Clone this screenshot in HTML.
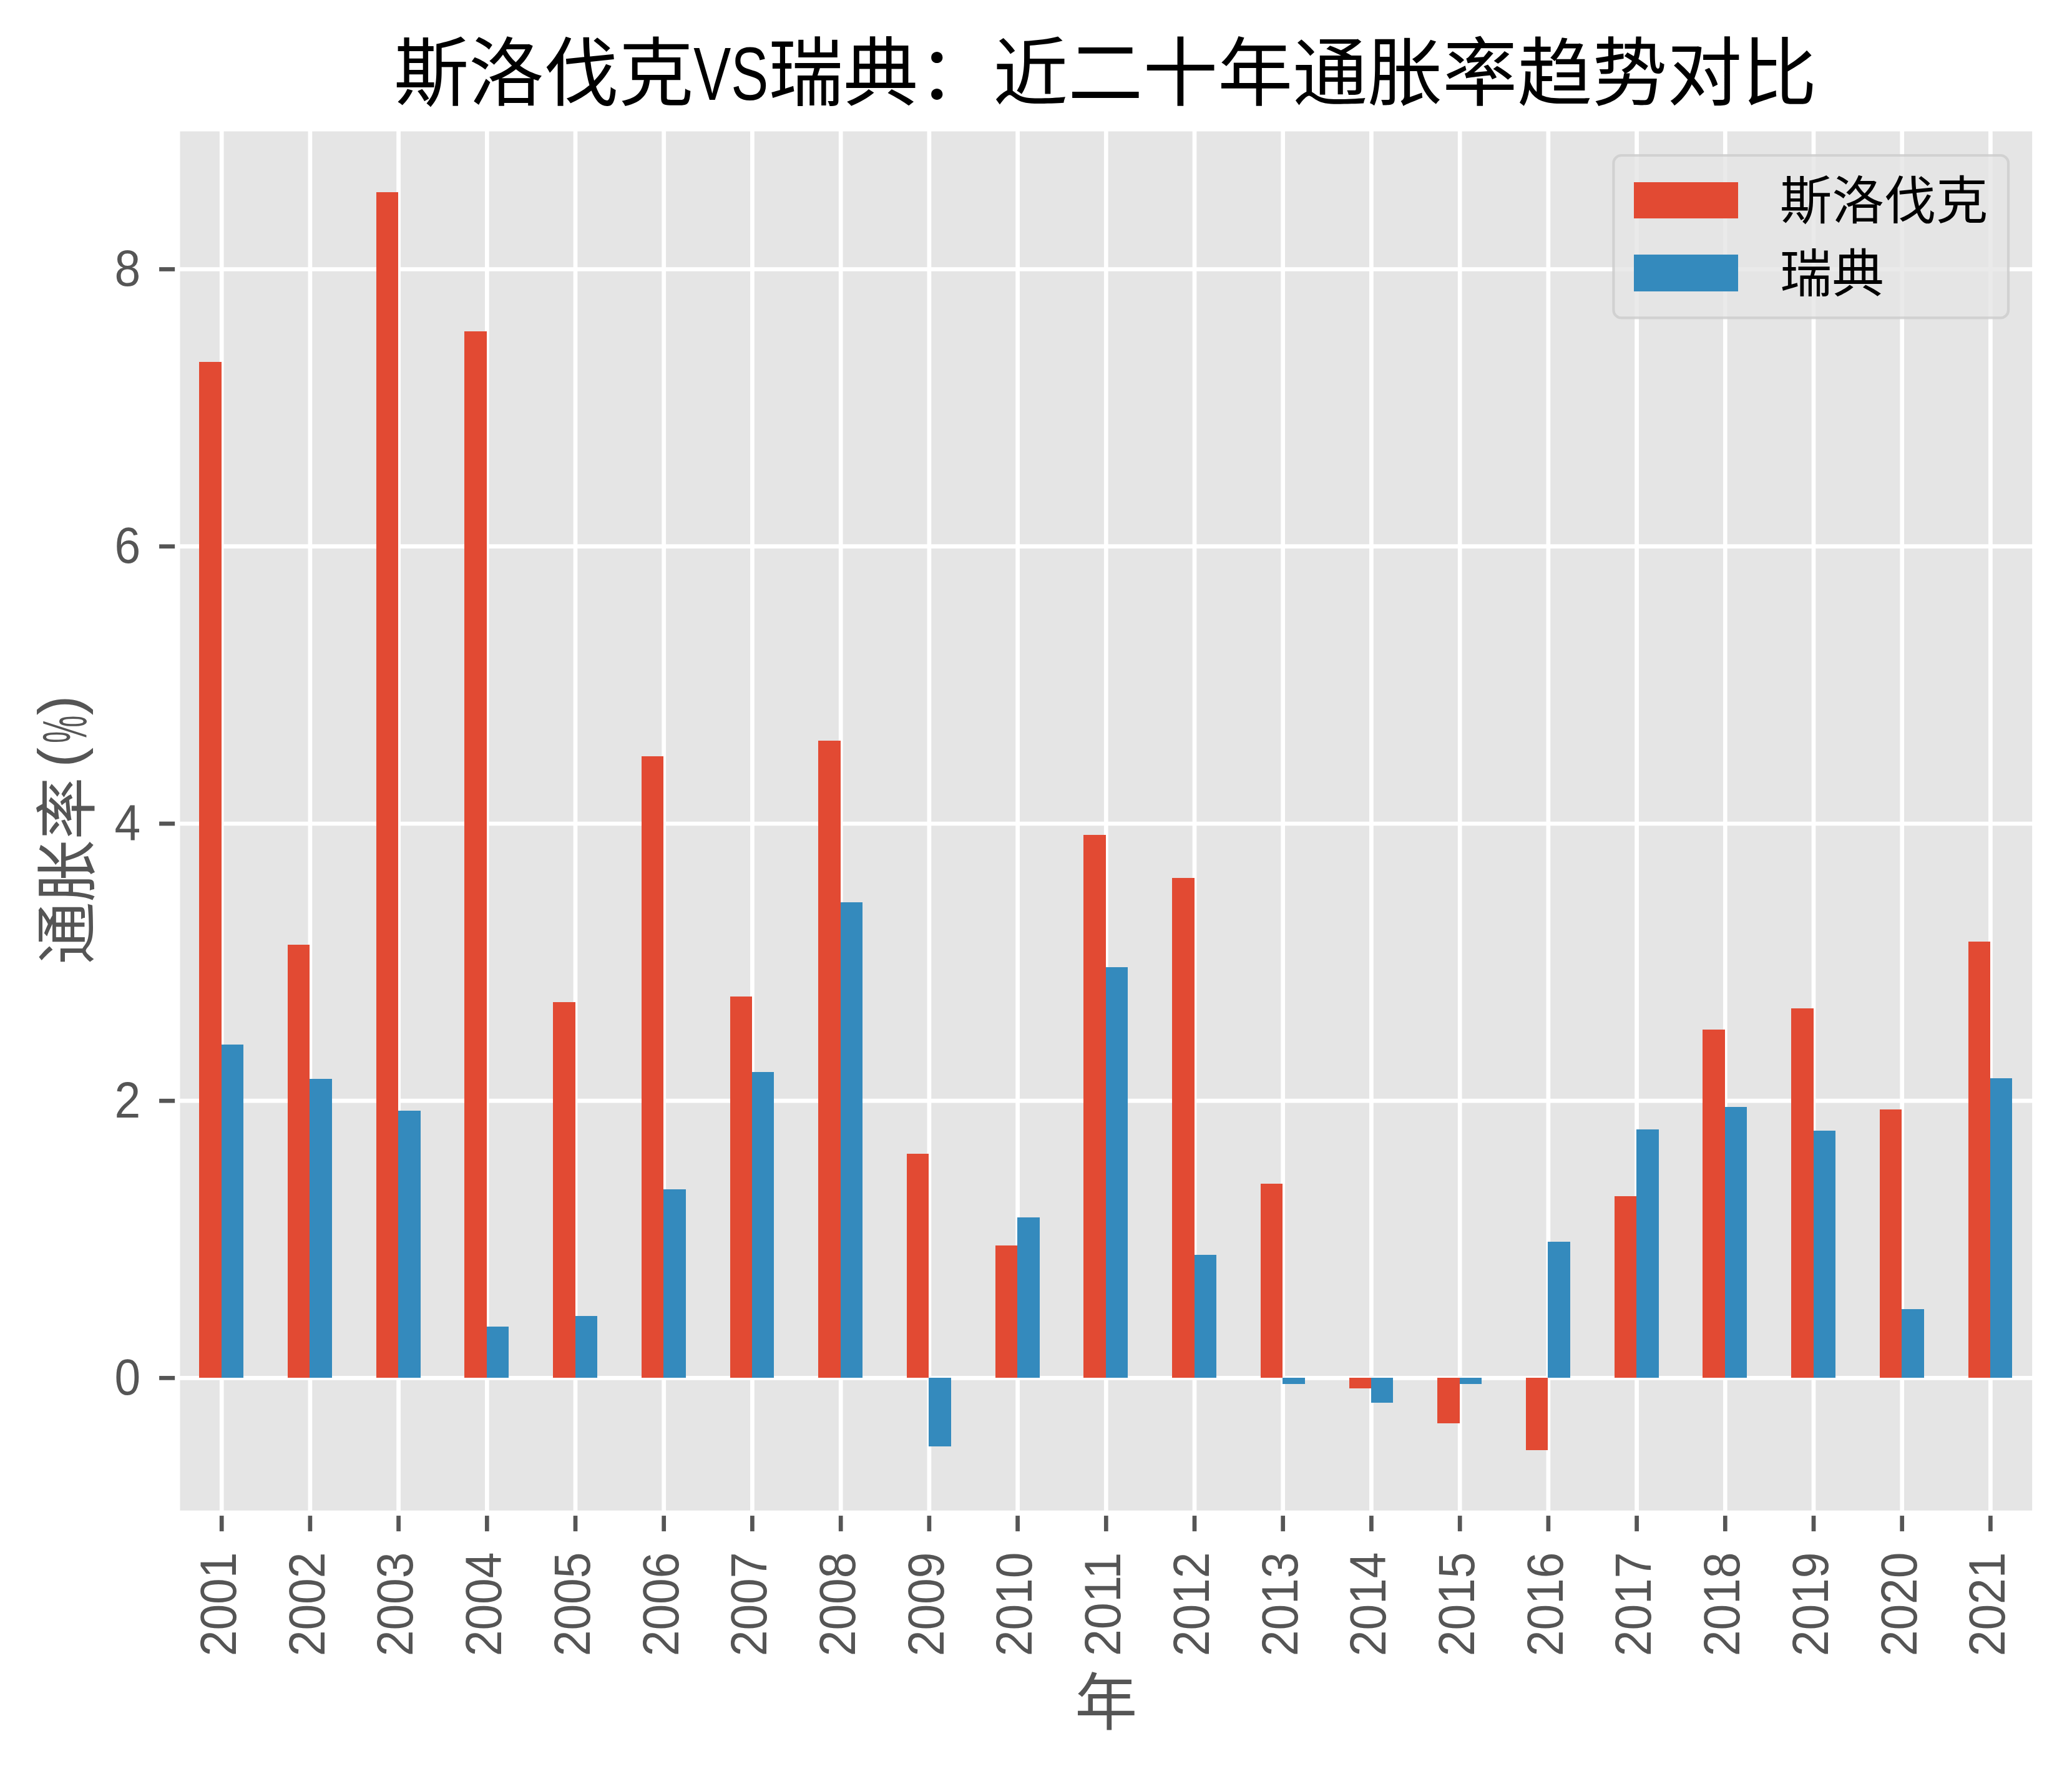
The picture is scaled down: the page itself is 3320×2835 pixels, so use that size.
<!DOCTYPE html>
<html lang="zh-CN"><head><meta charset="utf-8"><title>斯洛伐克VS瑞典：近二十年通胀率趋势对比</title>
<style>html,body{margin:0;padding:0;background:#fff;}body{width:3320px;height:2835px;overflow:hidden;}svg{display:block;}
text{font-family:"Liberation Sans", "Noto Sans CJK SC", sans-serif;}
.tk{font-size:81px;fill:#555555;}.lb{font-size:100px;fill:#555555;}.tt{font-size:120px;fill:#000;}.lg{font-size:83.3px;fill:#000;}
</style></head><body>
<svg width="3320" height="2835" viewBox="0 0 3320 2835">
<rect x="0" y="0" width="3320" height="2835" fill="#ffffff"/>
<rect x="284.3" y="206.4" width="2976.0" height="2218.5" fill="#E5E5E5"/>
<g stroke="#ffffff" stroke-width="6.7">
<line x1="355.2" y1="206.4" x2="355.2" y2="2424.9"/>
<line x1="496.9" y1="206.4" x2="496.9" y2="2424.9"/>
<line x1="638.6" y1="206.4" x2="638.6" y2="2424.9"/>
<line x1="780.3" y1="206.4" x2="780.3" y2="2424.9"/>
<line x1="922.0" y1="206.4" x2="922.0" y2="2424.9"/>
<line x1="1063.7" y1="206.4" x2="1063.7" y2="2424.9"/>
<line x1="1205.4" y1="206.4" x2="1205.4" y2="2424.9"/>
<line x1="1347.2" y1="206.4" x2="1347.2" y2="2424.9"/>
<line x1="1488.9" y1="206.4" x2="1488.9" y2="2424.9"/>
<line x1="1630.6" y1="206.4" x2="1630.6" y2="2424.9"/>
<line x1="1772.3" y1="206.4" x2="1772.3" y2="2424.9"/>
<line x1="1914.0" y1="206.4" x2="1914.0" y2="2424.9"/>
<line x1="2055.7" y1="206.4" x2="2055.7" y2="2424.9"/>
<line x1="2197.4" y1="206.4" x2="2197.4" y2="2424.9"/>
<line x1="2339.2" y1="206.4" x2="2339.2" y2="2424.9"/>
<line x1="2480.9" y1="206.4" x2="2480.9" y2="2424.9"/>
<line x1="2622.6" y1="206.4" x2="2622.6" y2="2424.9"/>
<line x1="2764.3" y1="206.4" x2="2764.3" y2="2424.9"/>
<line x1="2906.0" y1="206.4" x2="2906.0" y2="2424.9"/>
<line x1="3047.7" y1="206.4" x2="3047.7" y2="2424.9"/>
<line x1="3189.4" y1="206.4" x2="3189.4" y2="2424.9"/>
<line x1="284.3" y1="2208.4" x2="3260.3" y2="2208.4"/>
<line x1="284.3" y1="1764.2" x2="3260.3" y2="1764.2"/>
<line x1="284.3" y1="1320.0" x2="3260.3" y2="1320.0"/>
<line x1="284.3" y1="875.7" x2="3260.3" y2="875.7"/>
<line x1="284.3" y1="431.5" x2="3260.3" y2="431.5"/>
</g>
<g fill="#E24A33" shape-rendering="crispEdges">
<rect x="319.2" y="579.7" width="35.4" height="1628.7"/>
<rect x="460.9" y="1513.9" width="35.4" height="694.5"/>
<rect x="602.7" y="307.8" width="35.4" height="1900.6"/>
<rect x="744.4" y="530.8" width="35.4" height="1677.6"/>
<rect x="886.1" y="1605.8" width="35.4" height="602.6"/>
<rect x="1027.8" y="1212.2" width="35.4" height="996.2"/>
<rect x="1169.5" y="1596.5" width="35.4" height="611.9"/>
<rect x="1311.2" y="1186.7" width="35.4" height="1021.7"/>
<rect x="1452.9" y="1848.6" width="35.4" height="359.8"/>
<rect x="1594.7" y="1996.3" width="35.4" height="212.1"/>
<rect x="1736.4" y="1337.7" width="35.4" height="870.7"/>
<rect x="1878.1" y="1406.6" width="35.4" height="801.8"/>
<rect x="2019.8" y="1897.4" width="35.4" height="311.0"/>
<rect x="2161.5" y="2208.4" width="35.4" height="16.7"/>
<rect x="2303.2" y="2208.4" width="35.4" height="72.2"/>
<rect x="2444.9" y="2208.4" width="35.4" height="115.5"/>
<rect x="2586.7" y="1917.4" width="35.4" height="291.0"/>
<rect x="2728.4" y="1650.0" width="35.4" height="558.4"/>
<rect x="2870.1" y="1615.8" width="35.4" height="592.6"/>
<rect x="3011.8" y="1777.5" width="35.4" height="430.9"/>
<rect x="3153.5" y="1508.8" width="35.4" height="699.6"/>
</g>
<g fill="#348ABD" shape-rendering="crispEdges">
<rect x="354.7" y="1674.0" width="35.4" height="534.4"/>
<rect x="496.4" y="1728.9" width="35.4" height="479.5"/>
<rect x="638.1" y="1779.7" width="35.4" height="428.7"/>
<rect x="779.8" y="2126.2" width="35.4" height="82.2"/>
<rect x="921.5" y="2108.5" width="35.4" height="99.9"/>
<rect x="1063.2" y="1905.9" width="35.4" height="302.5"/>
<rect x="1204.9" y="1717.5" width="35.4" height="490.9"/>
<rect x="1346.7" y="1445.5" width="35.4" height="762.9"/>
<rect x="1488.4" y="2208.4" width="35.4" height="109.9"/>
<rect x="1630.1" y="1950.8" width="35.4" height="257.6"/>
<rect x="1771.8" y="1549.8" width="35.4" height="658.6"/>
<rect x="1913.5" y="2010.7" width="35.4" height="197.7"/>
<rect x="2055.2" y="2208.4" width="35.4" height="10.0"/>
<rect x="2196.9" y="2208.4" width="35.4" height="40.0"/>
<rect x="2338.7" y="2208.4" width="35.4" height="10.0"/>
<rect x="2480.4" y="1989.8" width="35.4" height="218.6"/>
<rect x="2622.1" y="1809.9" width="35.4" height="398.5"/>
<rect x="2763.8" y="1774.4" width="35.4" height="434.0"/>
<rect x="2905.5" y="1812.2" width="35.4" height="396.2"/>
<rect x="3047.2" y="2098.2" width="35.4" height="110.2"/>
<rect x="3188.9" y="1727.8" width="35.4" height="480.6"/>
</g>
<g stroke="#555555" stroke-width="6.7">
<line x1="355.2" y1="2424.9" x2="355.2" y2="2454.1"/>
<line x1="496.9" y1="2424.9" x2="496.9" y2="2454.1"/>
<line x1="638.6" y1="2424.9" x2="638.6" y2="2454.1"/>
<line x1="780.3" y1="2424.9" x2="780.3" y2="2454.1"/>
<line x1="922.0" y1="2424.9" x2="922.0" y2="2454.1"/>
<line x1="1063.7" y1="2424.9" x2="1063.7" y2="2454.1"/>
<line x1="1205.4" y1="2424.9" x2="1205.4" y2="2454.1"/>
<line x1="1347.2" y1="2424.9" x2="1347.2" y2="2454.1"/>
<line x1="1488.9" y1="2424.9" x2="1488.9" y2="2454.1"/>
<line x1="1630.6" y1="2424.9" x2="1630.6" y2="2454.1"/>
<line x1="1772.3" y1="2424.9" x2="1772.3" y2="2454.1"/>
<line x1="1914.0" y1="2424.9" x2="1914.0" y2="2454.1"/>
<line x1="2055.7" y1="2424.9" x2="2055.7" y2="2454.1"/>
<line x1="2197.4" y1="2424.9" x2="2197.4" y2="2454.1"/>
<line x1="2339.2" y1="2424.9" x2="2339.2" y2="2454.1"/>
<line x1="2480.9" y1="2424.9" x2="2480.9" y2="2454.1"/>
<line x1="2622.6" y1="2424.9" x2="2622.6" y2="2454.1"/>
<line x1="2764.3" y1="2424.9" x2="2764.3" y2="2454.1"/>
<line x1="2906.0" y1="2424.9" x2="2906.0" y2="2454.1"/>
<line x1="3047.7" y1="2424.9" x2="3047.7" y2="2454.1"/>
<line x1="3189.4" y1="2424.9" x2="3189.4" y2="2454.1"/>
<line x1="255.1" y1="2208.4" x2="284.3" y2="2208.4"/>
<line x1="255.1" y1="1764.2" x2="284.3" y2="1764.2"/>
<line x1="255.1" y1="1320.0" x2="284.3" y2="1320.0"/>
<line x1="255.1" y1="875.7" x2="284.3" y2="875.7"/>
<line x1="255.1" y1="431.5" x2="284.3" y2="431.5"/>
</g>
<rect x="284.3" y="206.4" width="2976.0" height="2218.5" fill="none" stroke="#ffffff" stroke-width="8.3"/>
<g class="tk" text-anchor="end">
<text x="225.2" y="2235.0" textLength="41.7" lengthAdjust="spacingAndGlyphs">0</text>
<text x="225.2" y="1790.8" textLength="41.7" lengthAdjust="spacingAndGlyphs">2</text>
<text x="225.2" y="1346.6" textLength="41.7" lengthAdjust="spacingAndGlyphs">4</text>
<text x="225.2" y="902.3" textLength="41.7" lengthAdjust="spacingAndGlyphs">6</text>
<text x="225.2" y="458.1" textLength="41.7" lengthAdjust="spacingAndGlyphs">8</text>
</g>
<g class="tk" text-anchor="end">
<text transform="translate(378.0,2487.6) rotate(-90)" x="0" y="0" textLength="166.7" lengthAdjust="spacingAndGlyphs">2001</text>
<text transform="translate(519.7,2487.6) rotate(-90)" x="0" y="0" textLength="166.7" lengthAdjust="spacingAndGlyphs">2002</text>
<text transform="translate(661.4,2487.6) rotate(-90)" x="0" y="0" textLength="166.7" lengthAdjust="spacingAndGlyphs">2003</text>
<text transform="translate(803.1,2487.6) rotate(-90)" x="0" y="0" textLength="166.7" lengthAdjust="spacingAndGlyphs">2004</text>
<text transform="translate(944.8,2487.6) rotate(-90)" x="0" y="0" textLength="166.7" lengthAdjust="spacingAndGlyphs">2005</text>
<text transform="translate(1086.5,2487.6) rotate(-90)" x="0" y="0" textLength="166.7" lengthAdjust="spacingAndGlyphs">2006</text>
<text transform="translate(1228.2,2487.6) rotate(-90)" x="0" y="0" textLength="166.7" lengthAdjust="spacingAndGlyphs">2007</text>
<text transform="translate(1370.0,2487.6) rotate(-90)" x="0" y="0" textLength="166.7" lengthAdjust="spacingAndGlyphs">2008</text>
<text transform="translate(1511.7,2487.6) rotate(-90)" x="0" y="0" textLength="166.7" lengthAdjust="spacingAndGlyphs">2009</text>
<text transform="translate(1653.4,2487.6) rotate(-90)" x="0" y="0" textLength="166.7" lengthAdjust="spacingAndGlyphs">2010</text>
<text transform="translate(1795.1,2487.6) rotate(-90)" x="0" y="0" textLength="166.7" lengthAdjust="spacingAndGlyphs">2011</text>
<text transform="translate(1936.8,2487.6) rotate(-90)" x="0" y="0" textLength="166.7" lengthAdjust="spacingAndGlyphs">2012</text>
<text transform="translate(2078.5,2487.6) rotate(-90)" x="0" y="0" textLength="166.7" lengthAdjust="spacingAndGlyphs">2013</text>
<text transform="translate(2220.2,2487.6) rotate(-90)" x="0" y="0" textLength="166.7" lengthAdjust="spacingAndGlyphs">2014</text>
<text transform="translate(2362.0,2487.6) rotate(-90)" x="0" y="0" textLength="166.7" lengthAdjust="spacingAndGlyphs">2015</text>
<text transform="translate(2503.7,2487.6) rotate(-90)" x="0" y="0" textLength="166.7" lengthAdjust="spacingAndGlyphs">2016</text>
<text transform="translate(2645.4,2487.6) rotate(-90)" x="0" y="0" textLength="166.7" lengthAdjust="spacingAndGlyphs">2017</text>
<text transform="translate(2787.1,2487.6) rotate(-90)" x="0" y="0" textLength="166.7" lengthAdjust="spacingAndGlyphs">2018</text>
<text transform="translate(2928.8,2487.6) rotate(-90)" x="0" y="0" textLength="166.7" lengthAdjust="spacingAndGlyphs">2019</text>
<text transform="translate(3070.5,2487.6) rotate(-90)" x="0" y="0" textLength="166.7" lengthAdjust="spacingAndGlyphs">2020</text>
<text transform="translate(3212.2,2487.6) rotate(-90)" x="0" y="0" textLength="166.7" lengthAdjust="spacingAndGlyphs">2021</text>
</g>
<text class="lb" text-anchor="middle" x="1772.3" y="2764.0">年</text>
<text class="lb" transform="translate(142.5,1315.7) rotate(-90)" y="0"><tspan x="-229.7">通胀率</tspan><tspan x="86" dy="-14" font-size="95.5">(</tspan><tspan x="125" dy="9.5" textLength="44" lengthAdjust="spacingAndGlyphs">%</tspan><tspan x="169.4" dy="-9.5" font-size="95.5">)</tspan></text>
<text class="tt" y="160.0"><tspan x="631.3">斯洛伐克</tspan><tspan x="1111.3" textLength="120" lengthAdjust="spacingAndGlyphs">VS</tspan><tspan x="1231.3">瑞典：近二十年通胀率趋势对比</tspan></text>
<rect x="2585.4" y="249.0" width="632.6" height="260.4" rx="12.5" ry="12.5" fill="#E5E5E5" fill-opacity="0.8" stroke="#cccccc" stroke-opacity="0.8" stroke-width="4.2"/>
<rect x="2618.0" y="292.0" width="167.0" height="58.0" fill="#E24A33" shape-rendering="crispEdges"/>
<rect x="2618.0" y="408.0" width="167.0" height="59.0" fill="#348ABD" shape-rendering="crispEdges"/>
<text class="lg" x="2852.1" y="351.2">斯洛伐克</text>
<text class="lg" x="2852.1" y="468.2">瑞典</text>
</svg></body></html>
